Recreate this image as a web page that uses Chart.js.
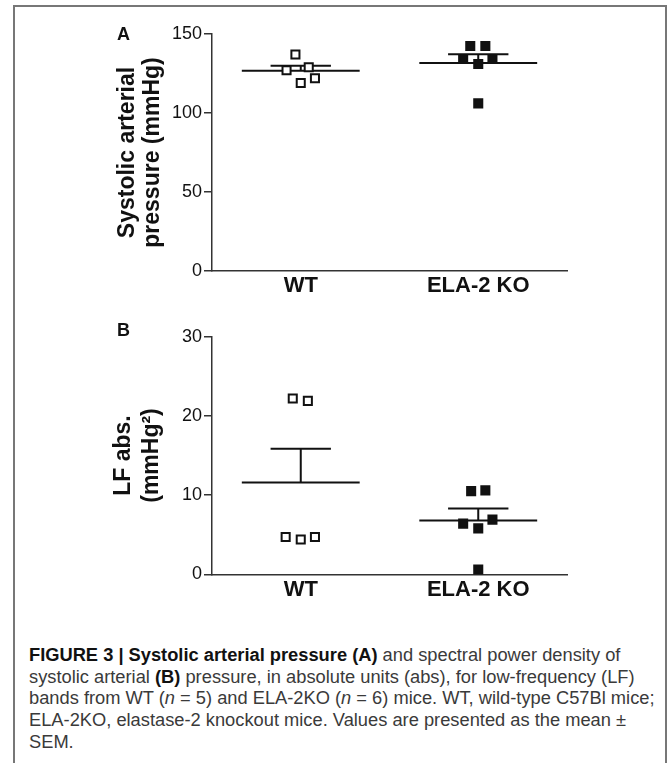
<!DOCTYPE html>
<html>
<head>
<meta charset="utf-8">
<script src="https://cdn.jsdelivr.net/npm/chart.js@4.4.1/dist/chart.umd.min.js"></script>
<style>
body { margin: 0; background: #fff; width: 670px; height: 763px; overflow: hidden; position: relative; font-family: 'Liberation Sans', Arial, sans-serif; }
#frame { position: absolute; left: 13px; top: 5px; width: 650px; height: 800px; border: 2px solid #777; border-bottom: none; }
canvas { position: absolute; left: 0; }
#chartA { top: 0; }
#chartB { top: 300px; }
.panel { position: absolute; left: 117px; font-weight: bold; font-size: 18px; line-height: 18px; color: #111; }
#caption { position: absolute; left: 29px; top: 644px; font-size: 18.3px; line-height: 21.7px; color: #3a3a3a; white-space: nowrap; }
#caption b { color: #111; }
</style>
</head>
<body>
<div id="frame"></div>
<canvas id="chartA" width="670" height="300"></canvas>
<canvas id="chartB" width="670" height="310"></canvas>
<div class="panel" style="top:25px">A</div>
<div class="panel" style="top:321px">B</div>
<div id="caption">
<b>FIGURE 3 | Systolic arterial pressure (A)</b> and spectral power density of<br>
systolic arterial <b>(B)</b> pressure, in absolute units (abs), for low-frequency (LF)<br>
bands from WT (<i>n</i> = 5) and ELA-2KO (<i>n</i> = 6) mice. WT, wild-type C57Bl mice;<br>
ELA-2KO, elastase-2 knockout mice. Values are presented as the mean ±<br>
SEM.
</div>
<script>
Chart.defaults.font.family = "'Liberation Sans', Arial, sans-serif";
Chart.defaults.color = '#111';

// groups and values
const groups = ['WT', 'ELA-2 KO'];
const sapWT = [137, 127, 129, 119, 122];
const sapKO = [142.4, 142.4, 134.2, 134.2, 131, 106.1];
const lfWT = [22.2, 21.9, 4.7, 4.4, 4.7];
const lfKO = [10.5, 10.6, 6.4, 6.9, 5.8, 0.6];
const sapTicks = [0, 50, 100, 150];
const lfTicks = [0, 10, 20, 30];

// horizontal scatter of the dots around each group centre (category units)
const spreadA = [[-0.03, -0.08, 0.045, 0, 0.08], [-0.045, 0.04, -0.085, 0.08, 0, 0]];
const spreadB = [[-0.045, 0.04, -0.085, 0, 0.08], [-0.04, 0.04, -0.085, 0.08, 0, 0]];

const MEAN_HALF = 0.332;
const CAP_HALF = 0.17;

function mean(a) {
    return a.reduce((s, v) => s + v, 0) / a.length;
}

function sem(a) {
    const m = mean(a);
    const v = a.reduce((s, x) => s + (x - m) * (x - m), 0) / (a.length - 1);
    return Math.sqrt(v / a.length);
}

function lineSet(points) {
    return {
        data: points,
        showLine: true,
        pointRadius: 0,
        borderColor: '#111',
        borderWidth: 2,
        clip: false
    };
}

function buildDatasets(series, spread) {
    const dots = [];
    const lines = [];
    series.forEach((vals, g) => {
        dots.push({
            data: vals.map((v, i) => ({ x: g + spread[g][i], y: v })),
            pointStyle: 'rect',
            pointRadius: 5.7,
            borderWidth: 2,
            borderColor: '#111',
            backgroundColor: g === 0 ? '#fff' : '#111',
            clip: false
        });
        const m = mean(vals);
        const s = sem(vals);
        lines.push(lineSet([{ x: g - MEAN_HALF, y: m }, { x: g + MEAN_HALF, y: m }]));
        lines.push(lineSet([{ x: g, y: m }, { x: g, y: m + s }, { x: g - CAP_HALF, y: m + s }, { x: g + CAP_HALF, y: m + s }]));
    });
    // dots first so they are drawn on top
    return dots.concat(lines);
}

function makePanel(id, series, spread, ticks, title, titleLine, padding, yWidth) {
    new Chart(document.getElementById(id), {
        type: 'scatter',
        data: { datasets: buildDatasets(series, spread) },
        options: {
            responsive: false,
            animation: false,
            layout: { padding: padding },
            plugins: { legend: { display: false }, tooltip: { enabled: false } },
            scales: {
                x: {
                    type: 'linear',
                    min: -0.5,
                    max: 1.5,
                    afterBuildTicks: s => { s.ticks = groups.map((_, i) => ({ value: i })); },
                    ticks: {
                        callback: v => groups[v],
                        font: { size: 22, weight: 'bold' },
                        color: '#111',
                        padding: 2,
                        autoSkip: false,
                        maxRotation: 0
                    },
                    grid: { display: false, drawTicks: false },
                    border: { display: true, color: '#333', width: 1.5 },
                    afterFit: s => { s.height = 29; }
                },
                y: {
                    min: ticks[0],
                    max: ticks[ticks.length - 1],
                    afterBuildTicks: s => { s.ticks = ticks.map(v => ({ value: v })); },
                    ticks: { font: { size: 18 }, color: '#111', padding: 2 },
                    grid: { drawOnChartArea: false, drawTicks: true, tickLength: 8, color: '#333', lineWidth: 1.5 },
                    border: { display: true, color: '#333', width: 1.5 },
                    title: {
                        display: true,
                        text: title,
                        color: '#111',
                        font: { size: 23, weight: 'bold', lineHeight: titleLine },
                        padding: { top: 10, bottom: 0 }
                    },
                    afterFit: s => { s.width = yWidth; }
                }
            }
        }
    });
}

makePanel('chartA', [sapWT, sapKO], spreadA, sapTicks,
    ['Systolic arterial', 'pressure (mmHg)'], 1.1,
    { left: 105, top: 34, right: 103, bottom: 0 }, 107);

makePanel('chartB', [lfWT, lfKO], spreadB, lfTicks,
    ['LF abs.', '(mmHg²)'], 1.2,
    { left: 100, top: 36.7, right: 103, bottom: 6.7 }, 112);
</script>
</body>
</html>
